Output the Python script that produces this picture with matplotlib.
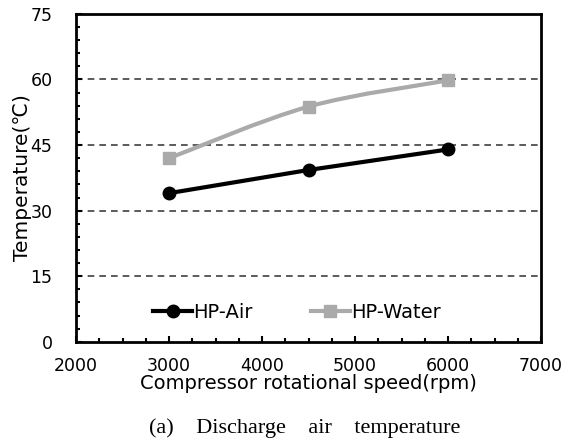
import matplotlib.pyplot as plt
import numpy as np
from matplotlib.path import Path
from matplotlib.patches import PathPatch
from matplotlib.ticker import MultipleLocator

rpm = [3000, 4500, 6000]
hp_air = [34.0, 39.3, 44.0]
hp_water = [42.0, 53.8, 59.8]

x_ticks = [2000, 3000, 4000, 5000, 6000, 7000]
y_ticks = [0, 15, 30, 45, 60, 75]

plt.rcParams['font.family'] = ['DejaVu Sans']


def smooth_path(xs, ys, t=0.5):
    """Excel-like smooth line as bezier path"""
    pts = np.column_stack([xs, ys]).astype(float)
    n = len(pts)
    verts = [pts[0]]
    codes = [Path.MOVETO]
    for i in range(n - 1):
        p0 = pts[i - 1] if i > 0 else pts[i]
        p1 = pts[i]
        p2 = pts[i + 1]
        p3 = pts[i + 2] if i + 2 < n else pts[i + 1]
        c1 = p1 + (p2 - p0) * t / 3
        c2 = p2 - (p3 - p1) * t / 3
        verts += [c1, c2, p2]
        codes += [Path.CURVE4] * 3
    return Path(verts, codes)


fig = plt.figure(figsize=(5.72, 4.48), dpi=100)
ax = fig.add_axes([0.133, 0.237, 0.813, 0.732])

for y in y_ticks[1:-1]:
    ax.axhline(y, color='#404040', linestyle=(0, (4, 3)), linewidth=1.2, zorder=1)

ax.plot(rpm, hp_air, color='black', linewidth=3, marker='o', markersize=9,
        label='HP-Air', zorder=3)

water_color = '#aaaaaa'
ax.add_patch(PathPatch(smooth_path(rpm, hp_water), facecolor='none',
                       edgecolor=water_color, linewidth=3, zorder=2))
ax.plot(rpm, hp_water, color=water_color, linewidth=3, linestyle='none',
        marker='s', markersize=9, zorder=2)
ax.plot([], [], color=water_color, linewidth=3, marker='s', markersize=9,
        label='HP-Water')

ax.set_xlim(2000, 7000)
ax.set_ylim(0, 75)
ax.set_xticks(x_ticks)
ax.set_yticks(y_ticks)
ax.xaxis.set_minor_locator(MultipleLocator(250))
ax.yaxis.set_minor_locator(MultipleLocator(3))
ax.tick_params(which='both', direction='in', top=False, right=False, width=1.5)
ax.tick_params(which='major', length=4, labelsize=12.5)
ax.tick_params(which='minor', length=3)
ax.tick_params(axis='x', pad=11)
ax.tick_params(axis='y', pad=17)
for s in ax.spines.values():
    s.set_linewidth(2)

ax.set_xlabel('Compressor rotational speed(rpm)', fontsize=14, labelpad=-1)
ax.set_ylabel('Temperature(℃)', fontsize=14.5)
ax.yaxis.set_label_coords(-0.095, 0.5)

ax.legend(loc='center left', ncol=2, frameon=False, fontsize=14,
          bbox_to_anchor=(0.166, 0.09), handlelength=2.0, columnspacing=3.0,
          handletextpad=0.05, borderpad=0, borderaxespad=0)

fig.text(0.533, 0.045, '(a)    Discharge    air    temperature', ha='center',
         va='center', fontsize=16, family='Liberation Serif')

fig.savefig('out.png', dpi=100)
